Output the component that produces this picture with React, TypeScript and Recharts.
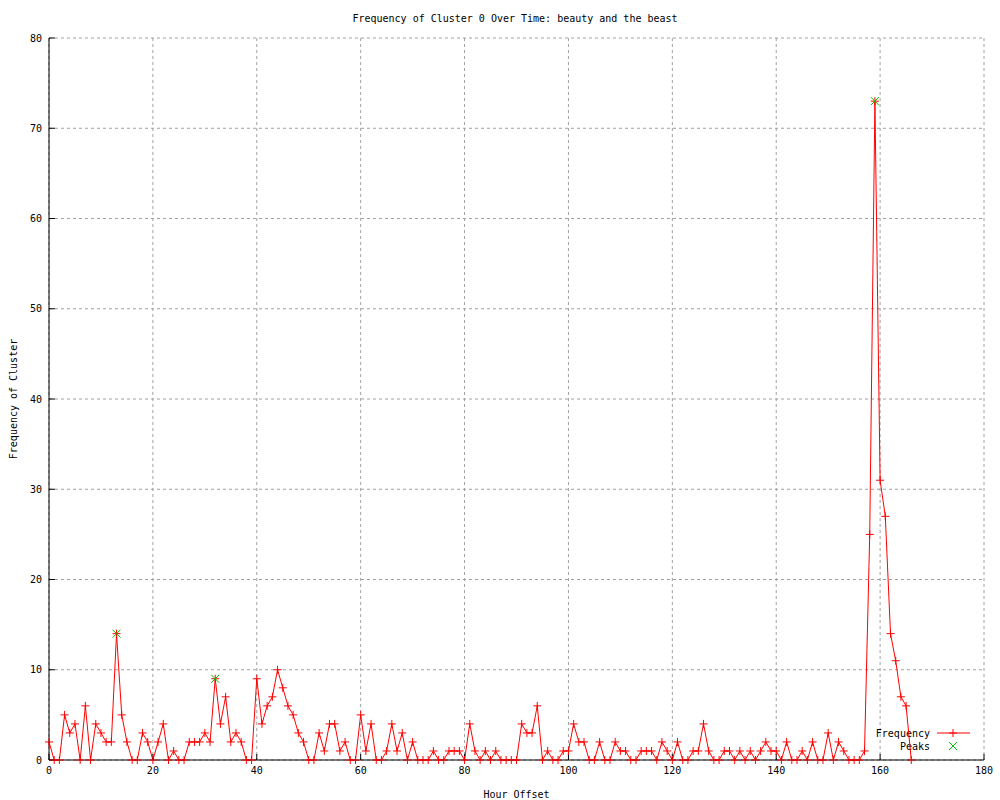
import {
  ComposedChart,
  Line,
  Scatter,
  XAxis,
  YAxis,
  CartesianGrid,
} from "recharts";

// frequency per hour offset, starting at hour 0
const frequency = [
  2, 0, 0, 5, 3, 4, 0, 6, 0, 4, 3, 2, 2, 14, 5, 2, 0, 0, 3, 2,
  0, 2, 4, 0, 1, 0, 0, 2, 2, 2, 3, 2, 9, 4, 7, 2, 3, 2, 0, 0,
  9, 4, 6, 7, 10, 8, 6, 5, 3, 2, 0, 0, 3, 1, 4, 4, 1, 2, 0, 0,
  5, 1, 4, 0, 0, 1, 4, 1, 3, 0, 2, 0, 0, 0, 1, 0, 0, 1, 1, 1,
  0, 4, 1, 0, 1, 0, 1, 0, 0, 0, 0, 4, 3, 3, 6, 0, 1, 0, 0, 1,
  1, 4, 2, 2, 0, 0, 2, 0, 0, 2, 1, 1, 0, 0, 1, 1, 1, 0, 2, 1,
  0, 2, 0, 0, 1, 1, 4, 1, 0, 0, 1, 1, 0, 1, 0, 1, 0, 1, 2, 1,
  1, 0, 2, 0, 0, 1, 0, 2, 0, 0, 3, 0, 2, 1, 0, 0, 0, 1, 25, 73,
  31, 27, 14, 11, 7, 6, 0,
];

const peakHours = [13, 32, 159];
const peakValues = [14, 9, 73];

const xTicks = [0, 20, 40, 60, 80, 100, 120, 140, 160, 180];
const yTicks = [0, 10, 20, 30, 40, 50, 60, 70, 80];

const RED = "#ff0000";
const GREEN = "#00c000";
const FONT = "'DejaVu Sans Mono', monospace";

const freqData = frequency.map((v, i) => ({ hour: i, freq: v }));
const peakData = peakHours.map((h, i) => ({ hour: h, peak: peakValues[i] }));

const PlusDot = (props: any) => {
  const { cx, cy } = props;
  if (cx == null || cy == null) return null;
  return (
    <path
      d={`M${cx - 4},${cy}H${cx + 4}M${cx},${cy - 4}V${cy + 4}`}
      stroke={RED}
      strokeWidth={1}
      fill="none"
    />
  );
};

const CrossDot = (props: any) => {
  const { cx, cy } = props;
  if (cx == null || cy == null) return null;
  return (
    <path
      d={`M${cx - 4},${cy - 4}L${cx + 4},${cy + 4}M${cx - 4},${cy + 4}L${cx + 4},${cy - 4}`}
      stroke={GREEN}
      strokeWidth={1}
      fill="none"
    />
  );
};

const tickStyle = { fontSize: 10, fontFamily: FONT, fill: "#000" };
const blank = () => "";

export default function App() {
  return (
    <div style={{ position: "absolute", left: 0, top: 0, background: "#fff" }}>
      <ComposedChart
        width={1000}
        height={800}
        margin={{ top: 38, right: 16, bottom: 0, left: 9 }}
      >
        <CartesianGrid
          stroke="#a0a0a0"
          strokeDasharray="3 3"
          horizontalValues={yTicks}
          verticalValues={xTicks}
        />
        <XAxis
          dataKey="hour"
          type="number"
          domain={[0, 180]}
          ticks={xTicks}
          height={40}
          stroke="#000"
          tick={tickStyle}
          tickSize={-6}
          tickMargin={13}
          allowDuplicatedCategory={false}
          label={{
            value: "Hour Offset",
            position: "insideBottom",
            offset: 2,
            style: tickStyle,
          }}
        />
        <XAxis
          xAxisId="top"
          orientation="top"
          type="number"
          domain={[0, 180]}
          ticks={xTicks}
          height={0}
          stroke="#000"
          tickSize={-6}
          tickFormatter={blank}
        />
        <YAxis
          type="number"
          domain={[0, 80]}
          ticks={yTicks}
          width={40}
          stroke="#000"
          tick={tickStyle}
          tickSize={-6}
          tickMargin={13}
          label={{
            value: "Frequency of Cluster",
            angle: -90,
            position: "insideLeft",
            offset: 4,
            style: { ...tickStyle, textAnchor: "middle" },
          }}
        />
        <YAxis
          yAxisId="right"
          orientation="right"
          type="number"
          domain={[0, 80]}
          ticks={yTicks}
          width={0}
          stroke="#000"
          tickSize={-6}
          tickFormatter={blank}
        />
        <Line
          data={freqData}
          dataKey="freq"
          type="linear"
          stroke={RED}
          strokeWidth={1}
          dot={<PlusDot />}
          activeDot={false}
          isAnimationActive={false}
        />
        <Scatter
          data={peakData}
          dataKey="peak"
          shape={<CrossDot />}
          isAnimationActive={false}
        />
        <text
          x={515}
          y={22}
          textAnchor="middle"
          style={tickStyle}
        >
          Frequency of Cluster 0 Over Time: beauty and the beast
        </text>
        <g>
          <text x={930} y={737} textAnchor="end" style={tickStyle}>
            Frequency
          </text>
          <line x1={937} y1={733} x2={970} y2={733} stroke={RED} />
          <PlusDot cx={953} cy={733} />
          <text x={930} y={750} textAnchor="end" style={tickStyle}>
            Peaks
          </text>
          <CrossDot cx={953} cy={746} />
        </g>
      </ComposedChart>
    </div>
  );
}
